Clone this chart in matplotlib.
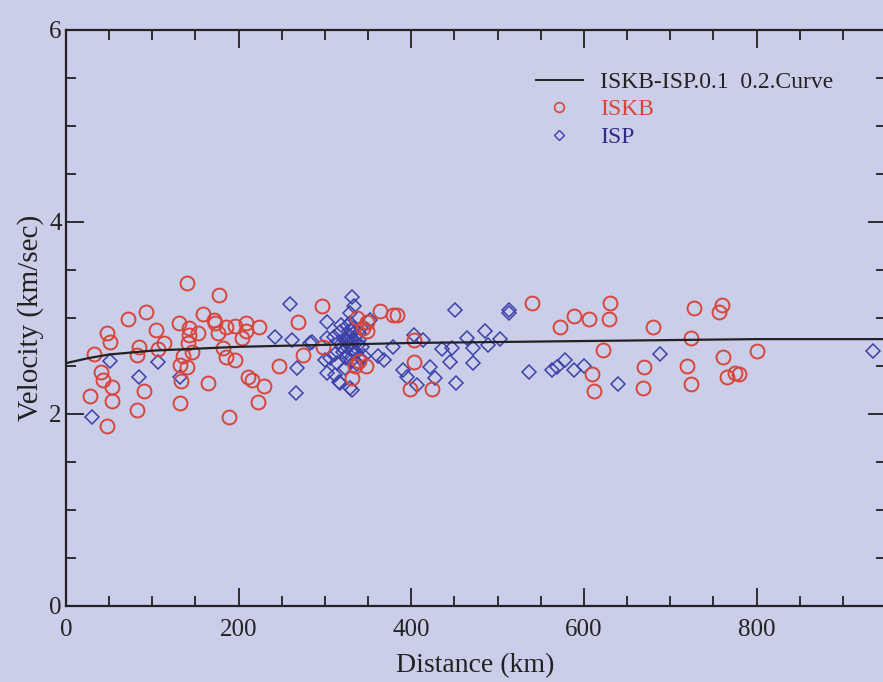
import numpy as np
import matplotlib
matplotlib.use("Agg")
import matplotlib.pyplot as plt
from matplotlib.lines import Line2D

iskb_dist = [140, 177, 93, 72, 47, 51, 32, 41, 43, 53, 28, 53, 48, 104, 113, 85, 82, 90, 82,
             107, 131, 142, 143, 153, 141, 146, 136, 132, 140, 133, 132, 165, 159, 171, 173,
             176, 185, 196, 208, 209, 204, 224, 182, 185, 196, 211, 215, 229, 223, 189, 269,
             297, 275, 247, 298, 364, 379, 383, 337, 349, 349, 347, 335, 331, 403, 403, 399,
             424, 540, 572, 588, 630, 629, 606, 622, 609, 612, 670, 669, 680, 727, 724, 719,
             724, 760, 757, 761, 766, 775, 780, 800, 340, 344]
iskb_vel = [3.36, 3.24, 3.06, 2.99, 2.84, 2.75, 2.63, 2.44, 2.35, 2.28, 2.19, 2.14, 1.87, 2.88,
            2.74, 2.70, 2.61, 2.24, 2.04, 2.68, 2.95, 2.90, 2.82, 2.84, 2.74, 2.65, 2.60, 2.51,
            2.49, 2.34, 2.11, 2.32, 3.04, 2.98, 2.95, 2.84, 2.91, 2.92, 2.95, 2.86, 2.79, 2.91,
            2.69, 2.59, 2.56, 2.39, 2.35, 2.29, 2.13, 1.97, 2.96, 3.12, 2.61, 2.50, 2.70, 3.07,
            3.03, 3.03, 3.00, 2.96, 2.86, 2.50, 2.50, 2.37, 2.77, 2.54, 2.26, 2.26, 3.16, 2.91,
            3.02, 3.16, 2.99, 2.99, 2.67, 2.42, 2.24, 2.49, 2.27, 2.91, 3.10, 2.79, 2.50, 2.31,
            3.14, 3.06, 2.59, 2.39, 2.43, 2.42, 2.66, 2.55, 2.90]

# ISP observations
isp_dist = [30, 51, 107, 85, 132, 242, 260, 302, 262, 285, 268, 266, 302, 300, 306, 302, 314,
            312, 318, 331, 326, 331, 283, 329, 316, 329, 362, 368, 379, 352, 390, 395, 407,
            403, 414, 422, 428, 436, 445, 447, 452, 451, 465, 472, 472, 486, 489, 503, 513,
            513, 536, 563, 569, 578, 588, 600, 640, 688, 935,
            318, 322, 325, 328, 330, 332, 335, 327, 320, 338, 333, 329, 336, 324, 340, 331,
            326, 334, 321, 339, 343, 316, 330, 337, 323, 312, 345, 342, 328, 333, 327, 319,
            341, 311]
isp_vel = [1.97, 2.55, 2.54, 2.39, 2.39, 2.80, 3.15, 2.96, 2.77, 2.75, 2.48, 2.22, 2.79, 2.56,
           2.58, 2.43, 2.53, 2.41, 2.32, 2.25, 2.77, 3.22, 2.74, 3.05, 2.33, 2.27, 2.60, 2.56,
           2.70, 2.98, 2.46, 2.39, 2.30, 2.82, 2.77, 2.49, 2.37, 2.68, 2.54, 2.69, 2.32, 3.08,
           2.79, 2.69, 2.53, 2.86, 2.72, 2.78, 3.05, 3.08, 2.44, 2.46, 2.49, 2.56, 2.46, 2.50,
           2.31, 2.62, 2.66,
           2.85, 2.78, 2.70, 2.82, 2.75, 2.68, 2.80, 2.62, 2.70, 2.72, 2.90, 2.95, 2.64, 2.58,
           2.77, 2.86, 2.92, 3.12, 2.65, 2.84, 2.70, 2.75, 2.55, 2.52, 2.48, 2.62, 2.60, 2.90,
           2.72, 2.78, 2.76, 2.93, 2.58, 2.80]

# fitted curve
curve_dist = [0, 25, 50, 100, 150, 200, 300, 400, 500, 600, 700, 800, 950]
curve_vel = [2.53, 2.58, 2.62, 2.66, 2.68, 2.70, 2.72, 2.74, 2.75, 2.76, 2.77, 2.78, 2.78]

red = "#d6463a"
blue = "#3c40a8"
bg = "#cbcee9"

plt.rcParams["font.family"] = ["Liberation Serif", "DejaVu Serif"]

fig = plt.figure(figsize=(8.83, 6.82), dpi=100, facecolor=bg)
ax = fig.add_axes([66/883, 76/682, 820/883, 576/682], facecolor=bg)

ax.plot(isp_dist, isp_vel, ls="none", marker="D", ms=7.5, mfc="none", mec=blue, mew=1.1,
        zorder=2)
ax.plot(iskb_dist, iskb_vel, ls="none", marker="o", ms=10, mfc="none", mec=red, mew=1.4,
        zorder=2)
ax.plot(curve_dist, curve_vel, color="#222222", lw=1.6, zorder=3)

ax.set_xlim(0, 950)
ax.set_ylim(0, 6)
ax.set_xticks([0, 200, 400, 600, 800])
ax.set_xticks(np.arange(0, 951, 50), minor=True)
ax.set_yticks([0, 2, 4, 6])
ax.set_yticks(np.arange(0, 6.01, 0.5), minor=True)
ax.tick_params(which="both", direction="in", top=True, right=True, width=1.3,
               colors="#222222", labelsize=18)
ax.tick_params(which="major", length=13)
ax.tick_params(which="minor", length=7)
ax.tick_params(axis="x", pad=9)
ax.tick_params(axis="y", pad=3)
for s in ax.spines.values():
    s.set_linewidth(1.6)
    s.set_color("#222222")

ax.set_xlabel("Distance (km)", fontsize=20, color="#222222")
ax.set_ylabel("Velocity (km/sec)", fontsize=21, color="#222222")
ax.xaxis.set_label_coords(0.499, -0.081)
ax.yaxis.set_label_coords(-0.027, 0.5)

handles = [Line2D([], [], color="#222222", lw=1.4),
           Line2D([], [], ls="none", marker="o", ms=7, mfc="none", mec=red, mew=1.2),
           Line2D([], [], ls="none", marker="D", ms=5, mfc="none", mec=blue, mew=1.0)]
labels = ["ISKB-ISP.0.1  0.2.Curve", "ISKB", "ISP"]
ax.legend(handles, labels, loc="upper left", bbox_to_anchor=(0.573, 0.928), frameon=False,
          fontsize=17, handlelength=2.0, handletextpad=0.7, labelspacing=0.25,
          borderpad=0, borderaxespad=0,
          labelcolor=["#222222", red, "#2c2c86"])

fig.savefig("out.png", dpi=100, facecolor=bg)
